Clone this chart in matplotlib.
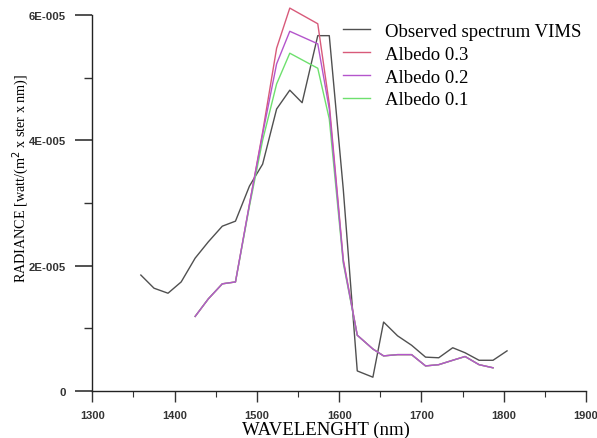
import matplotlib
matplotlib.use("Agg")
import matplotlib.pyplot as plt
from matplotlib.ticker import MultipleLocator, FixedLocator

# ── data ──────────────────────────────────────────────────────────────────────
obs_wl = [1359, 1375, 1392, 1408, 1425, 1441, 1458, 1474, 1491, 1507, 1524,
          1540, 1555, 1574, 1588, 1605, 1622, 1641, 1654, 1671, 1688, 1705,
          1721, 1738, 1753, 1770, 1787, 1804]
obs_rad = [1.85, 1.64, 1.56, 1.74, 2.12, 2.38, 2.63, 2.71, 3.27, 3.62, 4.50,
           4.80, 4.60, 5.67, 5.67, 3.22, 0.32, 0.22, 1.10, 0.88, 0.73, 0.54,
           0.53, 0.69, 0.61, 0.49, 0.49, 0.64]

alb_wl = [1425, 1441, 1458, 1474, 1491, 1507, 1524, 1540, 1574, 1588, 1605,
          1622, 1641, 1654, 1671, 1688, 1705, 1721, 1738, 1753, 1770, 1787]
alb_03 = [1.19, 1.47, 1.71, 1.74, 2.98, 4.13, 5.47, 6.11, 5.86, 4.58, 2.10,
          0.89, 0.67, 0.56, 0.58, 0.58, 0.40, 0.42, 0.49, 0.55, 0.42, 0.37]
alb_02 = [1.19, 1.47, 1.71, 1.74, 2.98, 4.10, 5.22, 5.74, 5.54, 4.50, 2.07,
          0.89, 0.67, 0.56, 0.58, 0.58, 0.40, 0.42, 0.49, 0.55, 0.42, 0.37]
alb_01 = [1.19, 1.47, 1.71, 1.74, 2.95, 4.00, 4.90, 5.39, 5.15, 4.34, 2.04,
          0.89, 0.67, 0.56, 0.58, 0.58, 0.40, 0.42, 0.49, 0.55, 0.42, 0.37]

labels = ["Observed spectrum VIMS", "Albedo 0.3", "Albedo 0.2", "Albedo 0.1"]
colors = ["#505050", "#d85a7a", "#b455cc", "#6ee06e"]
SCALE = 1e-5

y_ticks = [0, 2e-5, 4e-5, 6e-5]
y_ticklabels = ["0", "2E-005", "4E-005", "6E-005"]
x_ticks = [1300, 1400, 1500, 1600, 1700, 1800, 1900]

# ── figure ────────────────────────────────────────────────────────────────────
fig = plt.figure(figsize=(5.97, 4.39), dpi=100)
ax = fig.add_axes([0.1546, 0.1071, 0.827, 0.8565])

series = [(obs_wl, obs_rad), (alb_wl, alb_03), (alb_wl, alb_02), (alb_wl, alb_01)]
for (wl, rad), lab, col in zip(series, labels, colors):
    ax.plot(wl, [r * SCALE for r in rad], color=col, lw=1.0, label=lab,
            clip_on=False)

# albedo 0.2 drawn on top where the models overlap, like the original
ax.lines[2].set_zorder(3)

ax.set_xlim(1300, 1900)
ax.set_ylim(0, 6e-5)

for s in ("top", "right"):
    ax.spines[s].set_visible(False)
for s in ("left", "bottom"):
    ax.spines[s].set_color("#222222")
    ax.spines[s].set_linewidth(1.0)

ax.yaxis.set_major_locator(FixedLocator(y_ticks))
ax.set_yticklabels(y_ticklabels)
ax.yaxis.set_minor_locator(MultipleLocator(1e-5))
ax.xaxis.set_major_locator(FixedLocator(x_ticks))
ax.set_xticklabels([str(t) for t in x_ticks])
ax.xaxis.set_minor_locator(MultipleLocator(50))

ax.tick_params(axis="y", which="major", direction="out", length=12, width=1.2,
               pad=7, colors="#333333", labelsize=8.2)
ax.tick_params(axis="y", which="minor", direction="out", length=6, width=1.0,
               colors="#333333")
ax.tick_params(axis="x", which="major", direction="out", length=8, width=1.0,
               pad=6, colors="#333333", labelsize=8)
ax.tick_params(axis="x", which="minor", direction="out", length=4, width=0.8,
               colors="#333333")
for t in ax.get_xticklabels() + ax.get_yticklabels():
    t.set_fontweight("bold")
    t.set_fontfamily("Liberation Sans")

serif = "Liberation Serif"
ax.set_xlabel("WAVELENGHT (nm)", fontfamily=serif, fontsize=13.5)
ax.xaxis.set_label_coords(0.473, -0.08)
ax.set_ylabel(r"RADIANCE [watt/(m$^2$ x ster x nm)]", fontfamily=serif,
              fontsize=10.2)
ax.yaxis.set_label_coords(-0.124, 0.569)

leg = ax.legend(loc="upper left", bbox_to_anchor=(0.508, 0.979), frameon=False,
                prop={"family": serif, "size": 13.5}, handlelength=1.45,
                handletextpad=0.8, labelspacing=0.3, borderaxespad=0,
                borderpad=0)

fig.savefig("out.png", dpi=100)
